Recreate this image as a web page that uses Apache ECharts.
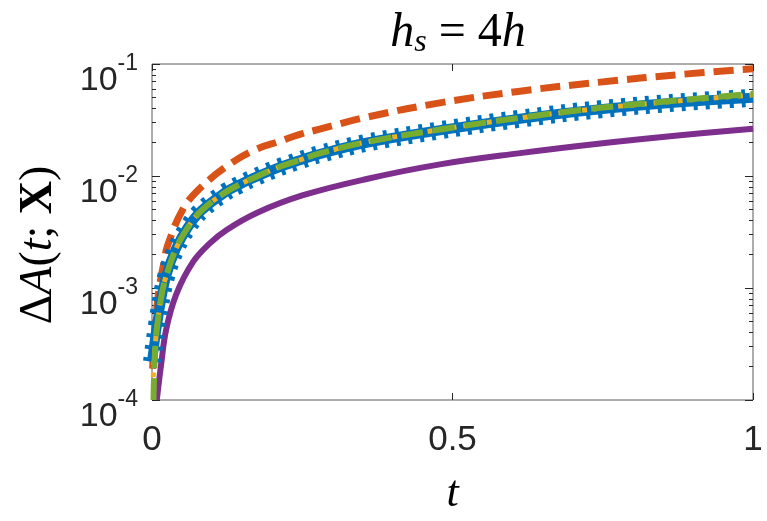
<!DOCTYPE html>
<html>
<head>
<meta charset="utf-8">
<script src="https://cdn.jsdelivr.net/npm/echarts@6/dist/echarts.min.js"></script>
<style>
  html, body { margin: 0; padding: 0; background: #fff; }
  #chart { width: 767px; height: 521px; }
</style>
</head>
<body>
<div id="chart"></div>
<script>
// values
const purpleT = [0.008, 0.0153, 0.0237, 0.04, 0.068, 0.096, 0.124, 0.175, 0.25, 0.357, 0.479, 0.6125, 0.746, 0.879, 1]
const purpleV = [1.0e-4, 2.1e-4, 4.3e-4, 8.7e-4, 1.7e-3, 2.5e-3, 3.3e-3, 4.7e-3, 6.7e-3, 9.4e-3, 0.0127, 0.016, 0.0195, 0.0231, 0.0264]

const orangeT = [0.001, 0.004, 0.008, 0.012, 0.02, 0.026, 0.051, 0.079, 0.126, 0.171, 0.2125, 0.246, 0.279, 0.357, 0.479, 0.6125, 0.746, 0.879, 1]
const orangeV = [1.9e-4, 3.9e-4, 6.5e-4, 1.0e-3, 1.7e-3, 2.4e-3, 5.0e-3, 7.7e-3, 0.0124, 0.0171, 0.0204, 0.0235, 0.0262, 0.0335, 0.045, 0.0572, 0.0689, 0.0806, 0.0906]

const greenT = [0.0025, 0.006, 0.0125, 0.0175, 0.024, 0.04, 0.06, 0.082, 0.121, 0.146, 0.165, 0.2125, 0.246, 0.279, 0.357, 0.479, 0.6125, 0.746, 0.879, 1]
const greenV = [1.0e-4, 3.3e-4, 6.5e-4, 9.5e-4, 1.3e-3, 2.25e-3, 3.5e-3, 4.9e-3, 7.1e-3, 8.4e-3, 9.4e-3, 0.0121, 0.0139, 0.0159, 0.0201, 0.026, 0.0331, 0.0406, 0.0475, 0.0542]

const yellowT = [0.002, 0.006, 0.0125, 0.0175, 0.024, 0.04, 0.06, 0.082, 0.121, 0.146, 0.165, 0.2125, 0.246, 0.279, 0.357, 0.479, 0.6125, 0.746, 0.879, 1]
const yellowV = [1.6e-4, 3.4e-4, 6.6e-4, 9.6e-4, 1.3e-3, 2.25e-3, 3.5e-3, 4.9e-3, 7.1e-3, 8.4e-3, 9.4e-3, 0.0121, 0.0139, 0.0159, 0.0201, 0.026, 0.033, 0.0403, 0.047, 0.053]

const blueT = [0, 0.0125, 0.024, 0.04, 0.06, 0.082, 0.121, 0.146, 0.165, 0.2125, 0.246, 0.279, 0.357, 0.479, 0.6125, 0.746, 0.879, 1]
const blueV = [2.2e-4, 6.5e-4, 1.3e-3, 2.25e-3, 3.5e-3, 4.9e-3, 7.1e-3, 8.4e-3, 9.4e-3, 0.012, 0.0138, 0.0157, 0.0198, 0.0256, 0.0325, 0.0395, 0.0455, 0.0499]

const xTicks = [0, 0.5, 1]
const yDecades = [-4, -3, -2, -1]

const pairs = (ts, vs) => ts.map((t, i) => [t, vs[i]])

const minorTicks = []
yDecades.slice(0, -1).forEach(d => {
  for (let k = 2; k <= 9; k++) minorTicks.push(d + Math.log10(k))
})

const ink = '#262626'
const sans = 'Liberation Sans'
const serif = 'Liberation Serif'

const chart = echarts.init(document.getElementById('chart'))

const tickAxis = (pos, values, len) => ({
  type: 'value',
  position: pos,
  min: -4,
  max: -1,
  axisLine: { show: false },
  splitLine: { show: false },
  axisLabel: { show: false },
  axisTick: { show: true, inside: true, length: len, customValues: values, lineStyle: { color: ink, width: 1 } }
})

const line = (name, data, color, width, type, z) => ({
  name: name,
  type: 'line',
  data: data,
  showSymbol: false,
  smooth: 0.4,
  clip: true,
  z: z,
  lineStyle: { color: color, width: width, type: type, cap: 'butt' },
  animation: false
})

chart.setOption({
  animation: false,
  title: {
    left: 453,
    top: 2,
    textAlign: 'center',
    text: '{i|h}{sub|s}{n| = 4}{i|h}',
    textStyle: {
      fontWeight: 'normal',
      rich: {
        i: { fontFamily: serif, fontStyle: 'italic', fontWeight: 'normal', fontSize: 48, color: '#000' },
        sub: { fontFamily: serif, fontStyle: 'italic', fontWeight: 'normal', fontSize: 32, color: '#000', padding: [20, 0, 0, 0] },
        n: { fontFamily: serif, fontWeight: 'normal', fontSize: 48, color: '#000' }
      }
    }
  },
  grid: {
    left: 152,
    top: 64,
    width: 601,
    height: 336,
    show: true,
    borderColor: '#5a5a5a',
    borderWidth: 1,
    backgroundColor: 'transparent'
  },
  xAxis: [{
    type: 'value',
    min: 0,
    max: 1,
    interval: 0.5,
    position: 'bottom',
    axisLine: { show: false },
    splitLine: { show: false },
    axisTick: { show: true, inside: true, length: 7, customValues: xTicks, lineStyle: { color: ink } },
    axisLabel: { customValues: xTicks, fontFamily: sans, fontSize: 35, color: ink, margin: 23 },
    name: 't',
    nameLocation: 'middle',
    nameGap: 72,
    nameTextStyle: { fontFamily: serif, fontStyle: 'italic', fontSize: 44, color: '#000' }
  }, {
    type: 'value',
    min: 0,
    max: 1,
    interval: 0.5,
    position: 'top',
    axisLine: { show: false },
    splitLine: { show: false },
    axisLabel: { show: false },
    axisTick: { show: true, inside: true, length: 7, customValues: xTicks, lineStyle: { color: ink } }
  }],
  yAxis: [{
    type: 'log',
    logBase: 10,
    min: 1e-4,
    max: 1e-1,
    position: 'left',
    axisLine: { show: false },
    axisTick: { show: false },
    splitLine: { show: false },
    axisLabel: {
      fontFamily: sans,
      color: ink,
      margin: 14,
      padding: [22, 0, 0, 0],
      formatter: v => '{b|10}{s|' + Math.round(Math.log10(v)) + '}',
      rich: {
        b: { fontFamily: sans, fontSize: 34, color: ink, verticalAlign: 'bottom', lineHeight: 45 },
        s: { fontFamily: sans, fontSize: 23, color: ink, verticalAlign: 'top', lineHeight: 45 }
      }
    },
    name: '{u|Δ}{i|A}{u|(}{i|t}{u|; }{b|X}{u|)}',
    nameLocation: 'middle',
    nameRotate: 90,
    nameGap: 90,
    nameTextStyle: {
      padding: [0, 26, 0, 0],
      rich: {
        u: { fontFamily: serif, fontSize: 46, color: '#000' },
        i: { fontFamily: serif, fontStyle: 'italic', fontSize: 46, color: '#000' },
        b: { fontFamily: serif, fontWeight: 'bold', fontSize: 46, color: '#000' }
      }
    }
  },
  tickAxis('left', yDecades, 8),
  tickAxis('left', minorTicks, 4),
  tickAxis('right', yDecades, 8),
  tickAxis('right', minorTicks, 4)
  ],
  series: [
    line('purple', pairs(purpleT, purpleV), '#7E2F8E', 6, 'solid', 2),
    line('orange', pairs(orangeT, orangeV), '#D95319', 7, [20, 9], 3),
    line('blue', pairs(blueT, blueV), '#0072BD', 10, 'solid', 4),
    line('blue-dots', pairs(blueT, blueV), '#0072BD', 18, [4, 8], 4),
    line('yellow', pairs(yellowT, yellowV), '#EDB120', 5, [5, 7], 5),
    line('green', pairs(greenT, greenV), '#77AC30', 6, [22, 10], 6)
  ]
})
</script>
</body>
</html>
